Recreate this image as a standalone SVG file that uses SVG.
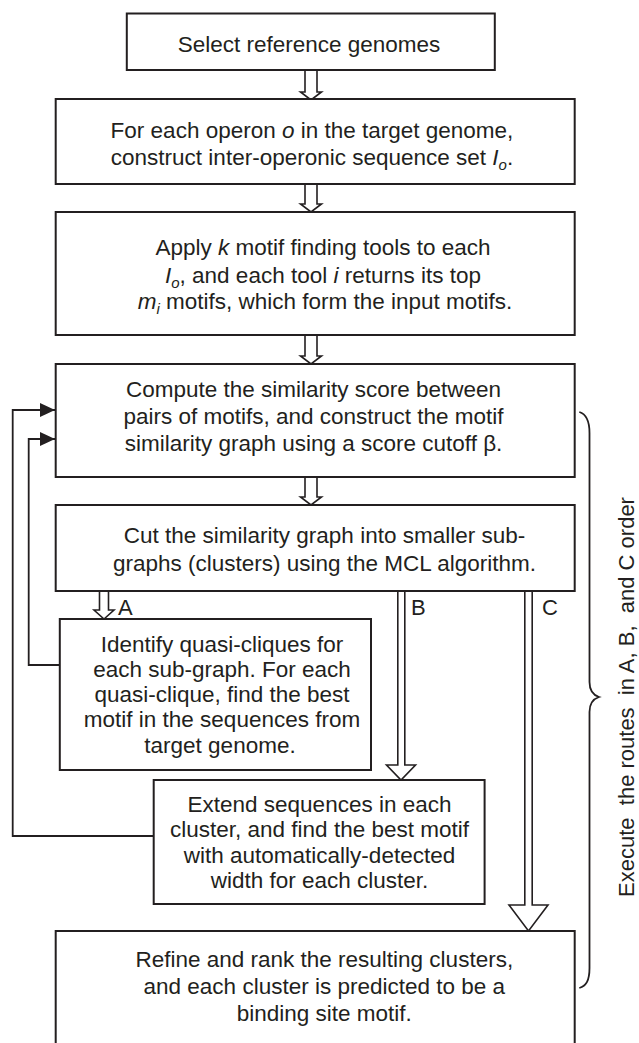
<svg xmlns="http://www.w3.org/2000/svg" width="639" height="1043" viewBox="0 0 639 1043">
<defs>
<style>
.box{fill:#fff;stroke:#231f20;stroke-width:2}
.t{font-family:"Liberation Sans",Arial,sans-serif;font-size:22.5px;fill:#231f20;text-anchor:middle}
.lbl{font-family:"Liberation Sans",Arial,sans-serif;font-size:22px;fill:#231f20}
.sub{font-size:15px}
.blk{fill:#fff;stroke:#231f20;stroke-width:1.6;stroke-linejoin:miter}
.fb{fill:none;stroke:#231f20;stroke-width:1.8}
.brace{fill:none;stroke:#231f20;stroke-width:1.8}
</style>
<marker id="ah" markerUnits="userSpaceOnUse" markerWidth="16" markerHeight="14" refX="15" refY="7" orient="auto">
<path d="M0,0 L15,7 L0,14 z" fill="#231f20"/>
</marker>
</defs>

<g id="connectors">
<polygon class="blk" points="305,70 305,92 300.5,92 311,100 321.5,92 317,92 317,70"/>
<polygon class="blk" points="305,184 305,204 300.5,204 311,212 321.5,204 317,204 317,184"/>
<polygon class="blk" points="305,335 305,356 300.5,356 311,364 321.5,356 317,356 317,335"/>
<polygon class="blk" points="305,477 305,497 300.5,497 311,505 321.5,497 317,497 317,477"/>
<polygon class="blk" points="99.5,591 99.5,610 94,610 104,619 114,610 108.5,610 108.5,591"/>
<polygon class="blk" points="397.8,591 397.8,765 386.5,765 401,780 415.5,765 404.8,765 404.8,591"/>
<polygon class="blk" points="524.8,591 524.8,905 509,905 528.5,931 548,905 532.2,905 532.2,591"/>
<path class="fb" d="M153.7,836 H12.7 V410 H55" marker-end="url(#ah)"/>
<path class="fb" d="M59.8,665 H28.7 V439 H55" marker-end="url(#ah)"/>
<text class="lbl" x="118" y="615">A</text>
<text class="lbl" x="411" y="615">B</text>
<text class="lbl" x="542" y="615">C</text>
</g>

<g id="n1">
<rect class="box" x="126.8" y="13.5" width="368" height="56.5"/>
<text class="t" x="309" y="52">Select reference genomes</text>
</g>

<g id="n2">
<rect class="box" x="55.7" y="99" width="519" height="85"/>
<text class="t" x="312" y="138">For each operon <tspan font-style="italic">o</tspan> in the target genome,</text>
<text class="t" x="312" y="165">construct inter-operonic sequence set <tspan font-style="italic">I</tspan><tspan class="sub" font-style="italic" dy="5">o</tspan><tspan dy="-5">.</tspan></text>
</g>

<g id="n3">
<rect class="box" x="55.7" y="212" width="519" height="123"/>
<text class="t" x="323" y="255">Apply <tspan font-style="italic">k</tspan> motif finding tools to each</text>
<text class="t" x="323" y="283"><tspan font-style="italic">I</tspan><tspan class="sub" font-style="italic" dy="5">o</tspan><tspan dy="-5">, and each tool </tspan><tspan font-style="italic">i</tspan> returns its top</text>
<text class="t" x="325" y="309"><tspan font-style="italic">m</tspan><tspan class="sub" font-style="italic" dy="5">i</tspan><tspan dy="-5"> motifs, which form the input motifs.</tspan></text>
</g>

<g id="n4">
<rect class="box" x="55.7" y="364" width="519" height="113"/>
<text class="t" x="313.5" y="397">Compute the similarity score between</text>
<text class="t" x="313.5" y="424">pairs of motifs, and construct the motif</text>
<text class="t" x="313.5" y="451">similarity graph using a score cutoff β.</text>
</g>

<g id="n5">
<rect class="box" x="55.7" y="505" width="519" height="86"/>
<text class="t" x="324.5" y="543">Cut the similarity graph into smaller sub-</text>
<text class="t" x="324.5" y="571">graphs (clusters) using the MCL algorithm.</text>
</g>

<g id="nA">
<rect class="box" x="59.8" y="619" width="311.2" height="151"/>
<text class="t" x="222" y="652">Identify quasi-cliques for</text>
<text class="t" x="222" y="677">each sub-graph. For each</text>
<text class="t" x="222" y="702">quasi-clique, find the best</text>
<text class="t" x="222" y="727">motif in the sequences from</text>
<text class="t" x="220" y="753">target genome.</text>
</g>

<g id="nB">
<rect class="box" x="153.7" y="780" width="330.9" height="124"/>
<text class="t" x="319.5" y="812">Extend sequences in each</text>
<text class="t" x="319.5" y="837">cluster, and find the best motif</text>
<text class="t" x="319.5" y="863">with automatically-detected</text>
<text class="t" x="319.5" y="888">width for each cluster.</text>
</g>

<g id="n6">
<rect class="box" x="55.7" y="931" width="519" height="130"/>
<text class="t" x="324.3" y="967">Refine and rank the resulting clusters,</text>
<text class="t" x="324.3" y="994">and each cluster is predicted to be a</text>
<text class="t" x="324.3" y="1021">binding site motif.</text>
</g>

<g id="brace">
<path class="brace" d="M579.3,412 C586,414 589.5,420 589.5,433 L589.5,682 C589.5,691 593,695 599,697 C593,699 589.5,703 589.5,712 L589.5,968 C589.5,981 586,986 579.3,988"/>
<text class="lbl" xml:space="preserve" font-size="23.5" text-anchor="middle" transform="translate(634,697) rotate(-90)">Execute  the routes  in A, B,  and C order</text>
</g>
</svg>
